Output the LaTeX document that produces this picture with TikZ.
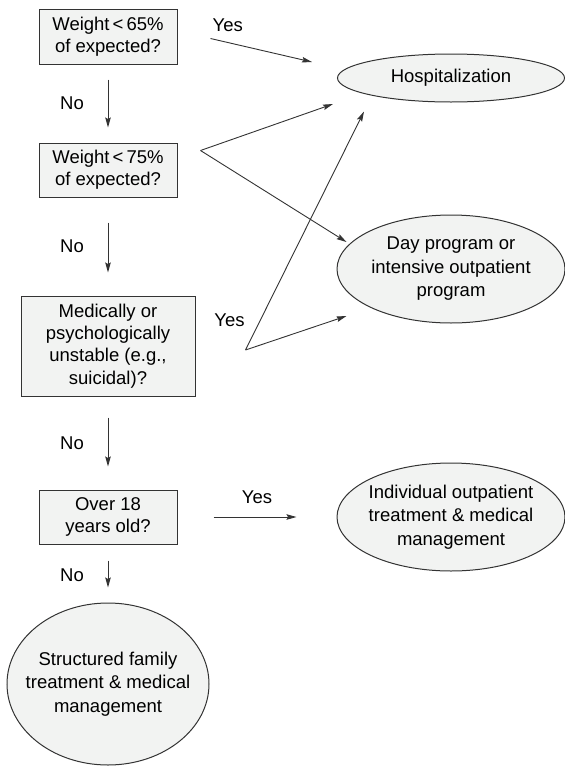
\documentclass[tikz,border=0pt]{standalone}
\usepackage{fontspec}
\setmainfont{Liberation Sans}
\usetikzlibrary{calc, arrows.meta, shapes.geometric}

\definecolor{boxfill}{HTML}{F2F3F2}
\definecolor{boxline}{HTML}{333333}

\tikzset{
 q/.style={draw=boxline, line width=1pt, fill=boxfill, inner sep=0pt, align=center,
  font=\fontsize{18.5}{22.2}\selectfont},
 r/.style={q, ellipse, font=\fontsize{18.5}{23.5}\selectfont},
 lbl/.style={inner sep=0pt, font=\fontsize{18.5}{22}\selectfont},
 arr/.style={-{Stealth[length=10pt, width=5.5pt, inset=1.5pt]}, line width=0.9pt, draw=boxline},
}

\begin{document}
\begin{tikzpicture}[x=1pt, y=-1pt]
 \useasboundingbox (0,0) rectangle (565,766);

 \node[q, minimum width=138pt, minimum height=55pt] (w65) at (108,36.5) {Weight\,<\,65\%\\of expected?};
 \node[q, minimum width=138pt, minimum height=54pt] (w75) at (108,170) {Weight\,<\,75\%\\of expected?};
 \node[q, minimum width=174pt, minimum height=100pt] (unst) at (108,346) {Medically or\\psychologically\\unstable (e.g.,\\suicidal)?};
 \node[q, minimum width=138pt, minimum height=54pt] (age) at (108,517) {Over 18\\years old?};

 \node[r, minimum width=227pt, minimum height=48pt] (hosp) at (451,78) {Hospitalization};
 \node[r, minimum width=228pt, minimum height=108pt] (day) at (451,269) {Day program or\\intensive outpatient\\program};
 \node[r, minimum width=228pt, minimum height=108pt, inner xsep=-3pt] (indiv) at (451,517) {Individual outpatient\\treatment \& medical\\management};
 \node[r, minimum width=202pt, minimum height=162pt, inner xsep=-13pt] (fam) at (108,684) {Structured family\\treatment \& medical\\management};

 % No
 \draw[arr, shorten <=15pt, shorten >=15pt] (w65) -- (w75) node[lbl, midway, xshift=-36pt] {No};
 \draw[arr, shorten <=25pt, shorten >=23pt] (w75) -- (unst) node[lbl, midway, xshift=-36pt] {No};
 \draw[arr, shorten <=21pt, shorten >=23pt] (unst) -- (age) node[lbl, midway, xshift=-36pt] {No};
 \draw[arr, shorten <=16pt, shorten >=15pt] (age) -- (fam) node[lbl, midway, xshift=-36pt, yshift=-2pt] {No};

 % Yes
 \coordinate (s1) at ($(w65.east)+(33,2)$);
 \coordinate (e1) at ($(hosp.west)+(-25,-16)$);
 \draw[arr] (s1) -- (e1) node[lbl, pos=0.17, yshift=17pt] {Yes};

 \coordinate (b2) at ($(w75.north east)+(23,8)$);
 \draw[arr] (b2) -- ($(hosp.west)+(-4,26)$);
 \draw[arr] (b2) -- ($(day.west)+(10,-27)$);

 \coordinate (b3) at ($(unst.east)+(50,4)$);
 \draw[arr] (b3) -- ($(hosp.south)+(-87,9)$);
 \draw[arr] (b3) -- ($(day.west)+(10,47)$);
 \node[lbl] (y2) at ($(unst.east)+(34,-26)$) {Yes};

 \draw[arr, shorten <=36pt, shorten >=40pt] (age) -- (indiv) node[lbl, midway, yshift=20pt] {Yes};
\end{tikzpicture}
\end{document}
